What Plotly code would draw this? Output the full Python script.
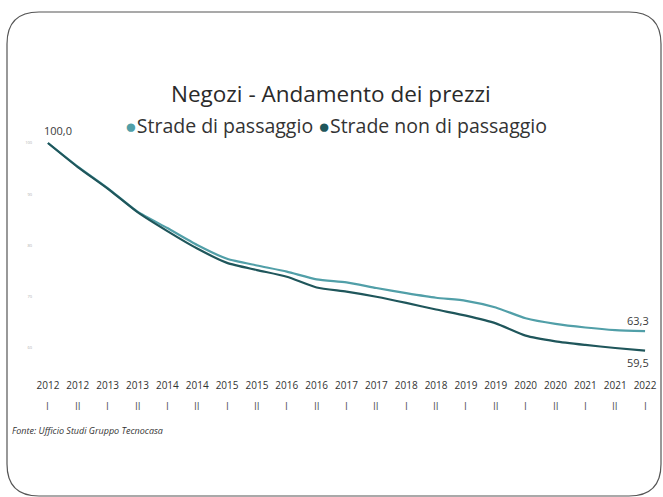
import plotly.graph_objects as go

# ---- data ----
years = ["2012", "2012", "2013", "2013", "2014", "2014", "2015", "2015", "2016", "2016",
         "2017", "2017", "2018", "2018", "2019", "2019", "2020", "2020", "2021", "2021", "2022"]
semesters = ["I", "II", "I", "II", "I", "II", "I", "II", "I", "II",
             "I", "II", "I", "II", "I", "II", "I", "II", "I", "II", "I"]
passaggio = [100.0, 95.4, 91.2, 86.6, 83.4, 80.1, 77.4, 76.1, 74.9, 73.4,
             72.8, 71.7, 70.7, 69.8, 69.2, 67.9, 65.8, 64.7, 64.0, 63.5, 63.3]
non_passaggio = [100.0, 95.3, 91.1, 86.5, 82.8, 79.4, 76.6, 75.2, 73.9, 71.8,
                 71.0, 70.0, 68.8, 67.5, 66.3, 64.8, 62.4, 61.3, 60.6, 60.0, 59.5]
ytick_vals = [60, 70, 80, 90, 100]
title_text = "Negozi - Andamento dei prezzi"
series_names = ["Strade di passaggio", "Strade non di passaggio"]
source_text = "Fonte: Ufficio Studi Gruppo Tecnocasa"

# ---- styles ----
W, H = 663, 497
L, R, T, B = 33, 3, 133, 127
C_LIGHT = "#519fa8"
C_DARK = "#1f565b"
FONT = "Open Sans"
TXT = "#3a3a3a"

x = list(range(len(years)))

fig = go.Figure()
fig.add_trace(go.Scatter(x=x, y=passaggio, mode="lines", name=series_names[0],
                         line=dict(color=C_LIGHT, width=2.2, shape="spline", smoothing=0.6),
                         showlegend=False))
fig.add_trace(go.Scatter(x=x, y=non_passaggio, mode="lines", name=series_names[1],
                         line=dict(color=C_DARK, width=2.2, shape="spline", smoothing=0.6),
                         showlegend=False))

pw = W - L - R
ph = H - T - B


def px2paper_x(px):
    return (px - L) / pw


def px2paper_y(py):
    return (H - B - py) / ph


annotations = []
# semester labels under the year tick labels
for i, s in enumerate(semesters):
    annotations.append(dict(x=x[i], y=px2paper_y(406), xref="x", yref="paper",
                            text=s, showarrow=False, xanchor="center", yanchor="middle",
                            font=dict(family=FONT, size=10, color="#555555")))
# data labels
annotations.append(dict(x=x[0], y=passaggio[0], xref="x", yref="y", text=f"{passaggio[0]:.1f}".replace(".", ","),
                        showarrow=False, xanchor="center", yanchor="bottom", xshift=10, yshift=3,
                        font=dict(family=FONT, size=11, color=TXT)))
annotations.append(dict(x=x[-1], y=passaggio[-1], xref="x", yref="y", text=f"{passaggio[-1]:.1f}".replace(".", ","),
                        showarrow=False, xanchor="center", yanchor="bottom", xshift=-7, yshift=1,
                        font=dict(family=FONT, size=11, color=TXT)))
annotations.append(dict(x=x[-1], y=non_passaggio[-1], xref="x", yref="y", text=f"{non_passaggio[-1]:.1f}".replace(".", ","),
                        showarrow=False, xanchor="center", yanchor="top", xshift=-7, yshift=-2,
                        font=dict(family=FONT, size=11, color=TXT)))
# title
annotations.append(dict(x=px2paper_x(331), y=px2paper_y(93), xref="paper", yref="paper",
                        text=title_text, showarrow=False, xanchor="center", yanchor="middle",
                        font=dict(family=FONT, size=22.5, color="#2a2a2a")))
# legend (as text)
legend_text = (f"<span style='color:{C_LIGHT}'>●</span>{series_names[0]} "
               f"<span style='color:{C_DARK}'>●</span>{series_names[1]}")
annotations.append(dict(x=px2paper_x(336), y=px2paper_y(126), xref="paper", yref="paper",
                        text=legend_text, showarrow=False, xanchor="center", yanchor="middle",
                        font=dict(family=FONT, size=19.5, color="#333333")))
# source
annotations.append(dict(x=px2paper_x(10), y=px2paper_y(430), xref="paper", yref="paper",
                        text=f"<i>{source_text}</i>", showarrow=False, xanchor="left", yanchor="middle",
                        font=dict(family=FONT, size=9, color="#333333")))

# rounded frame
fx0, fx1, fy0, fy1 = px2paper_x(7), px2paper_x(661), px2paper_y(12), px2paper_y(496)
rx = 32 / pw
ry = 32 / ph
path = (f"M {fx0+rx} {fy0} L {fx1-rx} {fy0} Q {fx1} {fy0} {fx1} {fy0-ry} "
        f"L {fx1} {fy1+ry} Q {fx1} {fy1} {fx1-rx} {fy1} "
        f"L {fx0+rx} {fy1} Q {fx0} {fy1} {fx0} {fy1+ry} "
        f"L {fx0} {fy0-ry} Q {fx0} {fy0} {fx0+rx} {fy0} Z")

fig.update_layout(
    width=W, height=H,
    margin=dict(l=L, r=R, t=T, b=B),
    paper_bgcolor="white", plot_bgcolor="white",
    showlegend=False,
    annotations=annotations,
    shapes=[dict(type="path", path=path, xref="paper", yref="paper",
                 line=dict(color="#555555", width=1.2), fillcolor="rgba(0,0,0,0)", layer="below")],
    xaxis=dict(range=[-0.5, len(years) - 0.5], tickvals=x, ticktext=years,
               tickfont=dict(family=FONT, size=10, color="#333333"), showgrid=False,
               zeroline=False, showline=False, ticks="", ticklabelstandoff=8),
    yaxis=dict(range=[55.7, 101.95], tickvals=ytick_vals, ticktext=[str(v) for v in ytick_vals],
               tickfont=dict(family=FONT, size=4, color="#b0b0b0"), showgrid=False,
               zeroline=False, showline=False, ticks=""),
)

fig.write_html("out.html", config={"displayModeBar": False},
               post_script="document.body.style.margin='0px';document.body.style.overflow='hidden';")
